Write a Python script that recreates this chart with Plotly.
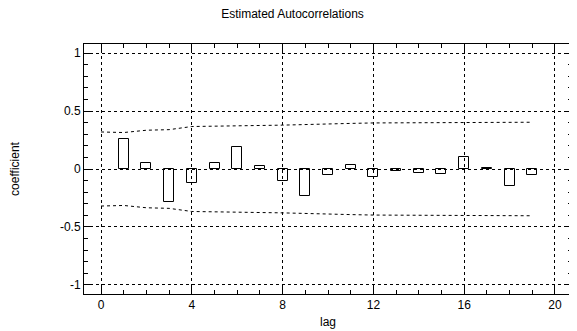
import plotly.graph_objects as go

lags = list(range(1, 20))
acf = [0.257, 0.048, -0.286, -0.123, 0.051, 0.19, 0.028, -0.103, -0.234,
       -0.051, 0.034, -0.072, -0.017, -0.034, -0.043, 0.103, 0.009, -0.151, -0.051]

band_lags = list(range(0, 20))
band = [0.32, 0.315, 0.335, 0.34, 0.367, 0.368, 0.372, 0.376, 0.379, 0.382,
        0.39, 0.394, 0.398, 0.399, 0.4, 0.4, 0.401, 0.402, 0.403, 0.404]

x_ticks = [0, 4, 8, 12, 16, 20]
y_ticks = [-1, -0.5, 0, 0.5, 1]
y_tick_labels = ["-1", "-0.5", "0", "0.5", "1"]

font_family = "Liberation Sans, Arial, sans-serif"

fig = go.Figure()
fig.add_trace(go.Bar(
    x=lags, y=acf, width=0.44,
    marker=dict(color="rgba(255,255,255,0)", line=dict(color="black", width=1)),
    showlegend=False,
))
fig.add_trace(go.Scatter(
    x=band_lags, y=band, mode="lines",
    line=dict(color="black", width=1, dash="3px,3px"), showlegend=False,
))
fig.add_trace(go.Scatter(
    x=band_lags, y=[-v for v in band], mode="lines",
    line=dict(color="black", width=1, dash="3px,3px"), showlegend=False,
))

axis_common = dict(
    showline=True, linecolor="black", linewidth=1, mirror="allticks",
    ticks="inside", tickcolor="black", ticklen=8, tickwidth=1,
    showgrid=True, gridcolor="black", gridwidth=1, griddash="3px,3px",
    zeroline=False,
    tickfont=dict(family=font_family, size=12, color="black"),
)

fig.update_xaxes(
    range=[-0.75, 20.75], tickvals=x_ticks, ticktext=[str(v) for v in x_ticks],
    title=dict(text="lag", font=dict(family=font_family, size=12, color="black"), standoff=6),
    minor=dict(ticks="inside", ticklen=4, dtick=1, tick0=0, tickcolor="black", showgrid=False),
    **axis_common,
)
fig.update_yaxes(
    range=[-1.08, 1.08], tickvals=y_ticks, ticktext=y_tick_labels,
    title=dict(text="coefficient", font=dict(family=font_family, size=12, color="black"), standoff=37),
    minor=dict(ticks="inside", ticklen=4, dtick=0.1, tick0=0, tickcolor="black", showgrid=False),
    **axis_common,
)

fig.update_layout(
    width=569, height=323,
    margin=dict(l=76, r=4, t=36, b=35),
    paper_bgcolor="white", plot_bgcolor="white",
    title=dict(text="Estimated Autocorrelations", x=0.5, xanchor="center",
               xref="container", yref="container",
               y=0.995, yanchor="top",
               font=dict(family=font_family, size=12, color="black")),
    font=dict(family=font_family, size=12, color="black"),
    bargap=0,
)

fig.write_html("out.html")
